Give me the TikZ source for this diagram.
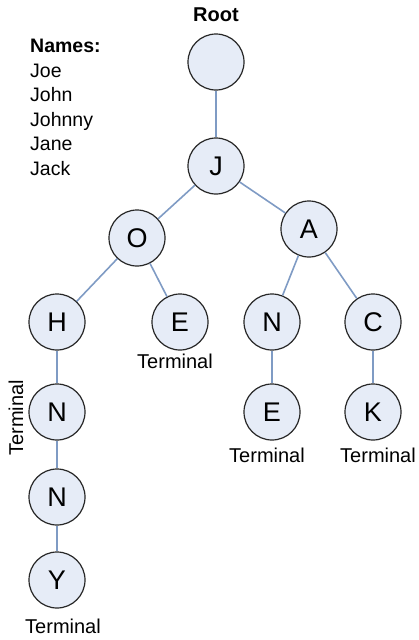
\documentclass[tikz,border=0pt]{standalone}
\usepackage{fontspec}
\setmainfont{Liberation Sans}
\begin{document}
\begin{tikzpicture}[x=1pt,y=-1pt,
  tn/.style={circle,draw=black!85,line width=1.2pt,fill=nodefill,minimum size=56pt,inner sep=0pt,font=\fontsize{27}{30}\selectfont},
  edge/.style={draw=edgecol,line width=1.6pt},
  lbl/.style={font=\fontsize{20}{22}\selectfont,inner sep=0pt},
  txt/.style={font=\fontsize{19.5}{24.5}\selectfont,inner sep=0pt,anchor=north west,align=left}]
\definecolor{nodefill}{HTML}{E6ECF7}
\definecolor{edgecol}{HTML}{7F9BC4}
\useasboundingbox (0,0) rectangle (418,640);
\node[tn] (root) at (216,62) {};
\node[tn] (J) at (216,166) {J};
\node[tn] (O) at (137,238) {O};
\node[tn] (A) at (309,229) {A};
\node[tn] (H) at (57,322) {H};
\node[tn] (E1) at (180,322) {E};
\node[tn] (N1) at (272,322) {N};
\node[tn] (C) at (373,322) {C};
\node[tn] (N2) at (57,412) {N};
\node[tn] (E2) at (272,412) {E};
\node[tn] (K) at (373,412) {K};
\node[tn] (N3) at (57,497) {N};
\node[tn] (Y) at (57,580) {Y};
\draw[edge] (root) -- (J);
\draw[edge] (J) -- (O);
\draw[edge] (J) -- (A);
\draw[edge] (O) -- (H);
\draw[edge] (O) -- (E1);
\draw[edge] (A) -- (N1);
\draw[edge] (A) -- (C);
\draw[edge] (H) -- (N2);
\draw[edge] (N2) -- (N3);
\draw[edge] (N3) -- (Y);
\draw[edge] (N1) -- (E2);
\draw[edge] (C) -- (K);
\node[lbl,font=\bfseries\fontsize{20}{22}\selectfont] (roottxt) at (216,15) {Root};
\node[txt] (names) at (30,39) {\textbf{Names:}\\Joe\\John\\Johnny\\Jane\\Jack};
\node[lbl] (t1) at (175,361) {Terminal};
\node[lbl] (t2) at (267,455) {Terminal};
\node[lbl] (t3) at (378,455) {Terminal};
\node[lbl] (t4) at (63,626) {Terminal};
\node[lbl,rotate=90] (t5) at (16,418) {Terminal};
\end{tikzpicture}
\end{document}
